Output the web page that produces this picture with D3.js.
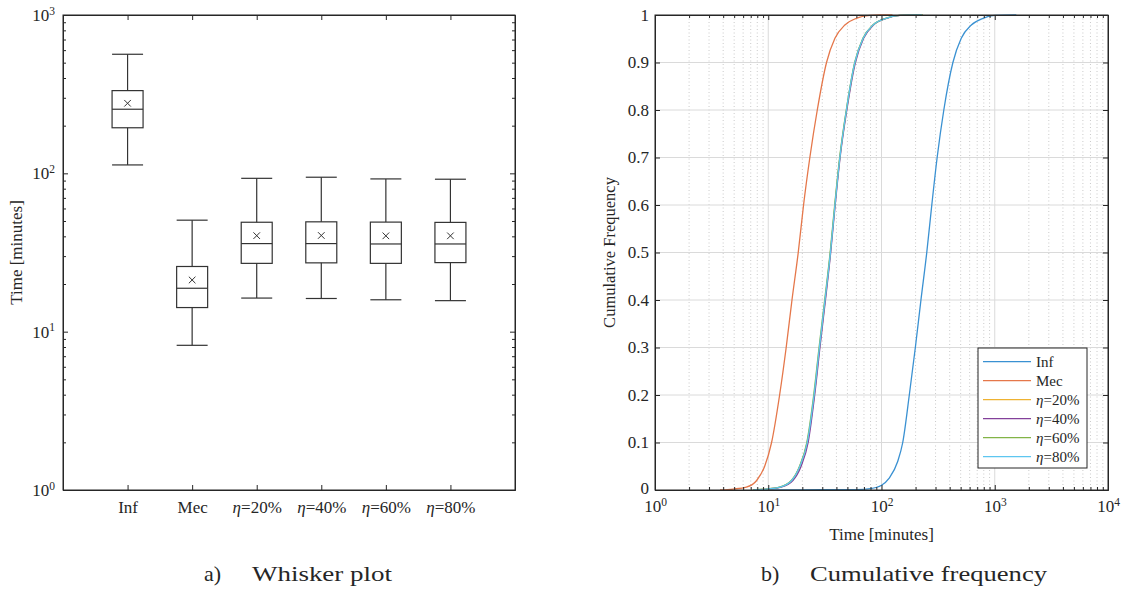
<!DOCTYPE html>
<html>
<head>
<meta charset="utf-8">
<script src="https://cdn.jsdelivr.net/npm/d3@7"></script>
<style>
body { margin: 0; background: #fff; }
text { font-family: "Liberation Serif", "Times New Roman", serif; fill: #262626; }
.axis path, .axis line { stroke: #262626; stroke-width: 1; }
</style>
</head>
<body>
<svg id="fig" width="1121" height="590"></svg>
<script>
// ---- whisker plot data (minutes) ----
var boxCats = ["Inf", "Mec", "η=20%", "η=40%", "η=60%", "η=80%"];
var boxLow    = [113, 8.2, 16.3, 16.2, 15.9, 15.7];
var boxQ1     = [194, 14.2, 27.0, 27.2, 27.0, 27.3];
var boxMedian = [254, 18.8, 36.0, 36.0, 35.8, 35.8];
var boxQ3     = [333, 25.8, 49.1, 49.4, 49.2, 49.0];
var boxHigh   = [565, 50.6, 93.0, 94.5, 92.2, 91.8];
var boxMean   = [277, 21.2, 40.4, 40.5, 40.3, 40.3];

// ---- cumulative frequency data ----
var infT   = [10, 30, 60, 80, 100, 117, 139, 154, 176, 199, 223, 251, 278, 310, 355, 427, 506, 621, 788, 1000, 1550];
var infF   = [0, 0.0005, 0.001, 0.003, 0.01, 0.025, 0.06, 0.1, 0.2, 0.3, 0.4, 0.5, 0.6, 0.7, 0.8, 0.9, 0.951, 0.979, 0.993, 0.999, 1];
var mecT   = [3.75, 4.9, 6.4, 7.9, 9.3, 10.7, 12.6, 14.4, 16.2, 18.4, 20.5, 23.3, 27.1, 32.7, 38.8, 47.5, 60, 79, 97, 125];
var mecF   = [0, 0.002, 0.006, 0.02, 0.05, 0.1, 0.2, 0.3, 0.4, 0.5, 0.6, 0.7, 0.8, 0.9, 0.951, 0.979, 0.993, 0.999, 1, 1];
var etaF   = [0, 0.002, 0.006, 0.02, 0.05, 0.1, 0.2, 0.3, 0.4, 0.5, 0.6, 0.7, 0.8, 0.9, 0.951, 0.979, 0.993, 0.999, 1];
var eta20T = [7.4, 9.7, 12.7, 16.1, 19.0, 22.1, 25.5, 28.4, 31.8, 35.4, 38.8, 42.9, 49.1, 58.2, 68.9, 84.4, 110, 145, 230];
var eta40T = [7.5, 9.9, 13.0, 16.5, 19.5, 22.5, 25.7, 28.6, 32.0, 35.6, 39.0, 43.1, 49.4, 58.8, 69.5, 85.0, 111, 147, 225];
var eta60T = [7.3, 9.6, 12.6, 16.0, 18.9, 21.9, 25.2, 28.1, 31.5, 35.2, 38.6, 42.7, 48.9, 58.0, 68.5, 84.0, 109, 144, 232];
var eta80T = [7.4, 9.7, 12.7, 16.1, 19.0, 22.1, 25.4, 28.3, 31.7, 35.4, 38.8, 42.9, 49.0, 58.1, 68.8, 84.2, 110, 145, 228];

var cdfNames  = ["Inf", "Mec", "η=20%", "η=40%", "η=60%", "η=80%"];
var cdfColors = ["#3a91d2", "#e5774a", "#eeb232", "#83409a", "#82b447", "#5ec6f0"];

var cdfSeries = [
  { t: infT, f: infF },
  { t: mecT, f: mecF },
  { t: eta20T, f: etaF },
  { t: eta40T, f: etaF },
  { t: eta60T, f: etaF },
  { t: eta80T, f: etaF }
];

var svg = d3.select("#fig");

// write "η=20%" with an italic eta
function etaLabel(sel, s) {
  sel.text(null);
  if (s.charAt(0) === "η") {
    sel.append("tspan").attr("font-style", "italic").text("η");
    sel.append("tspan").text(s.slice(1));
  } else {
    sel.append("tspan").text(s);
  }
}

// "10^k" labels
function powLabel(sel, v) {
  var k = Math.round(Math.log10(v));
  sel.text(null);
  sel.append("tspan").text("10");
  sel.append("tspan").attr("font-size", "11.5px").attr("dy", "-0.55em").text(k);
}

function minorLog(lo, hi) {
  var out = [];
  for (var e = lo; e < hi; e++) {
    for (var m = 2; m <= 9; m++) out.push(m * Math.pow(10, e));
  }
  return out;
}

// ================= a) whisker plot =================
var L = { x0: 63, x1: 515, y0: 15, y1: 490 };
var xBox = d3.scaleLinear().domain([0, 7]).range([L.x0, L.x1]);
var yBox = d3.scaleLog().domain([1, 1000]).range([L.y1, L.y0]);
var bw = 0.48;

var gA = svg.append("g");

// minor ticks
gA.append("g").attr("class", "axis").attr("transform", "translate(" + L.x0 + ",0)")
  .call(d3.axisLeft(yBox).tickValues(minorLog(0, 3)).tickSize(-3).tickSizeOuter(0).tickFormat(""));
gA.append("g").attr("class", "axis").attr("transform", "translate(" + L.x1 + ",0)")
  .call(d3.axisRight(yBox).tickValues(minorLog(0, 3)).tickSize(-3).tickSizeOuter(0).tickFormat(""));

// major y ticks
var yl = gA.append("g").attr("class", "axis").attr("transform", "translate(" + L.x0 + ",0)")
  .call(d3.axisLeft(yBox).tickValues([1, 10, 100, 1000]).tickSize(-5).tickSizeOuter(0).tickPadding(8));
yl.selectAll("text").attr("font-size", "17px").each(function(d) { powLabel(d3.select(this), d); });
gA.append("g").attr("class", "axis").attr("transform", "translate(" + L.x1 + ",0)")
  .call(d3.axisRight(yBox).tickValues([1, 10, 100, 1000]).tickSize(-5).tickSizeOuter(0).tickFormat(""));

// x ticks
var xl = gA.append("g").attr("class", "axis").attr("transform", "translate(0," + L.y1 + ")")
  .call(d3.axisBottom(xBox).tickValues(d3.range(1, 7)).tickSize(-5).tickSizeOuter(0).tickPadding(11)
    .tickFormat(function(d) { return boxCats[d - 1]; }));
xl.selectAll("text").attr("font-size", "17px").each(function(d) { etaLabel(d3.select(this), boxCats[d - 1]); });
gA.append("g").attr("class", "axis").attr("transform", "translate(0," + L.y0 + ")")
  .call(d3.axisTop(xBox).tickValues(d3.range(1, 7)).tickSize(-5).tickSizeOuter(0).tickFormat(""));

// boxes
var boxes = gA.append("g").selectAll("g").data(boxCats).enter().append("g")
  .attr("stroke", "#333").attr("stroke-width", 1.2).attr("fill", "none");
boxes.each(function(c, i) {
  var g = d3.select(this);
  var xc = xBox(i + 1), xa = xBox(i + 1 - bw / 2), xb = xBox(i + 1 + bw / 2);
  g.append("line").attr("x1", xc).attr("x2", xc).attr("y1", yBox(boxQ3[i])).attr("y2", yBox(boxHigh[i]));
  g.append("line").attr("x1", xc).attr("x2", xc).attr("y1", yBox(boxQ1[i])).attr("y2", yBox(boxLow[i]));
  g.append("line").attr("x1", xa).attr("x2", xb).attr("y1", yBox(boxHigh[i])).attr("y2", yBox(boxHigh[i]));
  g.append("line").attr("x1", xa).attr("x2", xb).attr("y1", yBox(boxLow[i])).attr("y2", yBox(boxLow[i]));
  g.append("rect").attr("x", xa).attr("width", xb - xa)
    .attr("y", yBox(boxQ3[i])).attr("height", yBox(boxQ1[i]) - yBox(boxQ3[i]));
  g.append("line").attr("x1", xa).attr("x2", xb).attr("y1", yBox(boxMedian[i])).attr("y2", yBox(boxMedian[i]));
  var ym = yBox(boxMean[i]);
  g.append("path").attr("stroke-width", 1)
    .attr("d", "M" + (xc - 3.3) + "," + (ym - 3.3) + "L" + (xc + 3.3) + "," + (ym + 3.3) +
               "M" + (xc - 3.3) + "," + (ym + 3.3) + "L" + (xc + 3.3) + "," + (ym - 3.3));
});

// frame
gA.append("rect").attr("x", L.x0).attr("y", L.y0).attr("width", L.x1 - L.x0).attr("height", L.y1 - L.y0)
  .attr("fill", "none").attr("stroke", "#262626").attr("stroke-width", 1);

gA.append("text").attr("transform", "translate(22," + ((L.y0 + L.y1) / 2) + ") rotate(-90)")
  .attr("text-anchor", "middle").attr("font-size", "17px").text("Time [minutes]");

// ================= b) cumulative frequency =================
var R = { x0: 655, x1: 1108, y0: 15, y1: 490 };
var xCdf = d3.scaleLog().domain([1, 10000]).range([R.x0, R.x1]);
var yCdf = d3.scaleLinear().domain([0, 1]).range([R.y1, R.y0]);
var gB = svg.append("g");
var yTicks = d3.range(0, 11).map(function(d) { return d / 10; });

// grid
gB.append("g").selectAll("line").data(minorLog(0, 4)).enter().append("line")
  .attr("x1", function(d) { return xCdf(d); }).attr("x2", function(d) { return xCdf(d); })
  .attr("y1", R.y0).attr("y2", R.y1)
  .attr("stroke", "#bdbdbd").attr("stroke-width", 0.8).attr("stroke-dasharray", "1,2.5");
gB.append("g").selectAll("line").data([10, 100, 1000]).enter().append("line")
  .attr("x1", function(d) { return xCdf(d); }).attr("x2", function(d) { return xCdf(d); })
  .attr("y1", R.y0).attr("y2", R.y1).attr("stroke", "#dadada").attr("stroke-width", 1);
gB.append("g").selectAll("line").data(yTicks.slice(1, 10)).enter().append("line")
  .attr("x1", R.x0).attr("x2", R.x1)
  .attr("y1", function(d) { return yCdf(d); }).attr("y2", function(d) { return yCdf(d); })
  .attr("stroke", "#dadada").attr("stroke-width", 1);

// curves
gB.append("clipPath").attr("id", "clipB").append("rect")
  .attr("x", R.x0).attr("y", R.y0 - 2).attr("width", R.x1 - R.x0).attr("height", R.y1 - R.y0 + 2);
var line = d3.line()
  .x(function(d) { return xCdf(d[0]); })
  .y(function(d) { return yCdf(d[1]); })
  .curve(d3.curveMonotoneX);
gB.append("g").attr("clip-path", "url(#clipB)").selectAll("path").data(cdfSeries).enter().append("path")
  .attr("fill", "none").attr("stroke-width", 1.3)
  .attr("stroke", function(d, i) { return cdfColors[i]; })
  .attr("d", function(s) { return line(d3.zip(s.t, s.f)); });

// axes
gB.append("g").attr("class", "axis").attr("transform", "translate(0," + R.y1 + ")")
  .call(d3.axisBottom(xCdf).tickValues(minorLog(0, 4)).tickSize(-3).tickSizeOuter(0).tickFormat(""));
gB.append("g").attr("class", "axis").attr("transform", "translate(0," + R.y0 + ")")
  .call(d3.axisTop(xCdf).tickValues(minorLog(0, 4)).tickSize(-3).tickSizeOuter(0).tickFormat(""));
var xb = gB.append("g").attr("class", "axis").attr("transform", "translate(0," + R.y1 + ")")
  .call(d3.axisBottom(xCdf).tickValues([1, 10, 100, 1000, 10000]).tickSize(-5).tickSizeOuter(0).tickPadding(10));
xb.selectAll("text").attr("font-size", "17px").each(function(d) { powLabel(d3.select(this), d); });
gB.append("g").attr("class", "axis").attr("transform", "translate(0," + R.y0 + ")")
  .call(d3.axisTop(xCdf).tickValues([1, 10, 100, 1000, 10000]).tickSize(-5).tickSizeOuter(0).tickFormat(""));

var yb = gB.append("g").attr("class", "axis").attr("transform", "translate(" + R.x0 + ",0)")
  .call(d3.axisLeft(yCdf).tickValues(yTicks).tickSize(-5).tickSizeOuter(0).tickPadding(6)
    .tickFormat(function(d) { return d === 0 || d === 1 ? d3.format("d")(d) : d3.format(".1f")(d); }));
yb.selectAll("text").attr("font-size", "17px");
yb.selectAll("text").filter(function(d) { return d === 0; }).attr("dy", "0.2em");
gB.append("g").attr("class", "axis").attr("transform", "translate(" + R.x1 + ",0)")
  .call(d3.axisRight(yCdf).tickValues(yTicks).tickSize(-5).tickSizeOuter(0).tickFormat(""));

gB.append("rect").attr("x", R.x0).attr("y", R.y0).attr("width", R.x1 - R.x0).attr("height", R.y1 - R.y0)
  .attr("fill", "none").attr("stroke", "#262626").attr("stroke-width", 1);

gB.append("text").attr("transform", "translate(615," + ((R.y0 + R.y1) / 2) + ") rotate(-90)")
  .attr("text-anchor", "middle").attr("font-size", "16.5px").text("Cumulative Frequency");
gB.append("text").attr("x", (R.x0 + R.x1) / 2).attr("y", 540)
  .attr("text-anchor", "middle").attr("font-size", "17px").text("Time [minutes]");

// legend
var lg = gB.append("g").attr("transform", "translate(978,348)");
lg.append("rect").attr("width", 109).attr("height", 120).attr("fill", "#fff")
  .attr("stroke", "#262626").attr("stroke-width", 1);
var rows = lg.selectAll("g.row").data(cdfNames).enter().append("g").attr("class", "row")
  .attr("transform", function(d, i) { return "translate(0," + (13.7 + i * 19) + ")"; });
rows.append("line").attr("x1", 5).attr("x2", 53).attr("y1", 0).attr("y2", 0)
  .attr("stroke-width", 1.3).attr("stroke", function(d, i) { return cdfColors[i]; });
rows.append("text").attr("x", 58).attr("dy", "0.35em").attr("font-size", "15px")
  .each(function(d) { etaLabel(d3.select(this), d); });

// captions
svg.append("text").attr("x", 204).attr("y", 581).attr("font-size", "22px").text("a)");
svg.append("text").attr("x", 252).attr("y", 581).attr("font-size", "22px")
  .attr("textLength", 140).attr("lengthAdjust", "spacingAndGlyphs").text("Whisker plot");
svg.append("text").attr("x", 761).attr("y", 581).attr("font-size", "22px").text("b)");
svg.append("text").attr("x", 810).attr("y", 581).attr("font-size", "22px")
  .attr("textLength", 237).attr("lengthAdjust", "spacingAndGlyphs").text("Cumulative frequency");
</script>
</body>
</html>
